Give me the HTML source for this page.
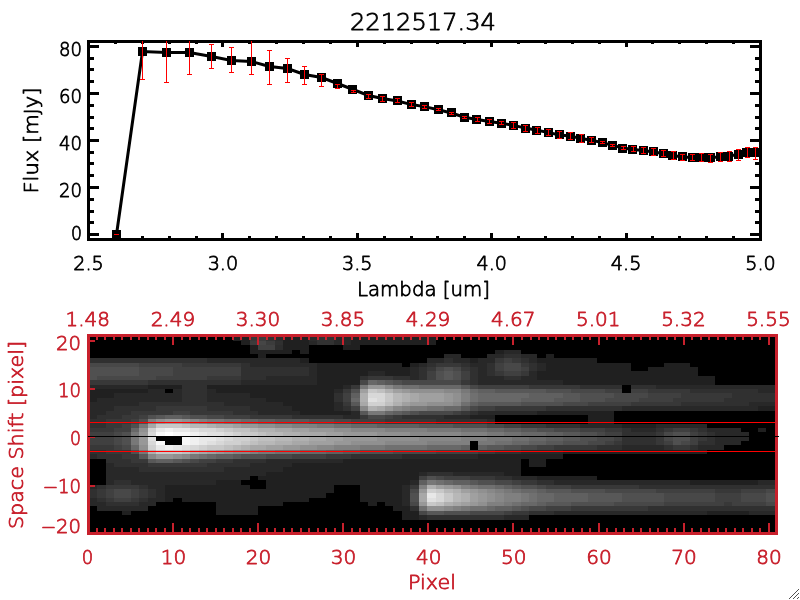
<!DOCTYPE html>
<html lang="en"><head><meta charset="utf-8"><title>2212517.34</title>
<style>html,body{margin:0;padding:0;background:#fff;overflow:hidden}svg{display:block}text{font-family:'DejaVu Sans Light', 'DejaVu Sans', 'Liberation Sans', sans-serif;font-weight:200;stroke-width:0.8px;paint-order:stroke fill;stroke-linejoin:round}</style></head><body>
<svg width="800" height="600" viewBox="0 0 800 600" style="will-change:transform">
<rect x="0" y="0" width="800" height="600" fill="#fff"/>
<g shape-rendering="crispEdges" fill="#000">
<rect x="87" y="40" width="675" height="3"/>
<rect x="87" y="238" width="675" height="3"/>
<rect x="87" y="40" width="3" height="201"/>
<rect x="759" y="40" width="3" height="201"/>
<rect x="114" y="236" width="3" height="2"/>
<rect x="114" y="43" width="3" height="1"/>
<rect x="141" y="236" width="3" height="2"/>
<rect x="141" y="43" width="3" height="1"/>
<rect x="168" y="236" width="3" height="2"/>
<rect x="168" y="43" width="3" height="1"/>
<rect x="195" y="236" width="3" height="2"/>
<rect x="195" y="43" width="3" height="1"/>
<rect x="221" y="233" width="3" height="5"/>
<rect x="221" y="43" width="3" height="4"/>
<rect x="248" y="236" width="3" height="2"/>
<rect x="248" y="43" width="3" height="1"/>
<rect x="275" y="236" width="3" height="2"/>
<rect x="275" y="43" width="3" height="1"/>
<rect x="302" y="236" width="3" height="2"/>
<rect x="302" y="43" width="3" height="1"/>
<rect x="329" y="236" width="3" height="2"/>
<rect x="329" y="43" width="3" height="1"/>
<rect x="356" y="233" width="3" height="5"/>
<rect x="356" y="43" width="3" height="4"/>
<rect x="383" y="236" width="3" height="2"/>
<rect x="383" y="43" width="3" height="1"/>
<rect x="410" y="236" width="3" height="2"/>
<rect x="410" y="43" width="3" height="1"/>
<rect x="436" y="236" width="3" height="2"/>
<rect x="436" y="43" width="3" height="1"/>
<rect x="463" y="236" width="3" height="2"/>
<rect x="463" y="43" width="3" height="1"/>
<rect x="490" y="233" width="3" height="5"/>
<rect x="490" y="43" width="3" height="4"/>
<rect x="517" y="236" width="3" height="2"/>
<rect x="517" y="43" width="3" height="1"/>
<rect x="544" y="236" width="3" height="2"/>
<rect x="544" y="43" width="3" height="1"/>
<rect x="571" y="236" width="3" height="2"/>
<rect x="571" y="43" width="3" height="1"/>
<rect x="598" y="236" width="3" height="2"/>
<rect x="598" y="43" width="3" height="1"/>
<rect x="625" y="233" width="3" height="5"/>
<rect x="625" y="43" width="3" height="4"/>
<rect x="651" y="236" width="3" height="2"/>
<rect x="651" y="43" width="3" height="1"/>
<rect x="678" y="236" width="3" height="2"/>
<rect x="678" y="43" width="3" height="1"/>
<rect x="705" y="236" width="3" height="2"/>
<rect x="705" y="43" width="3" height="1"/>
<rect x="732" y="236" width="3" height="2"/>
<rect x="732" y="43" width="3" height="1"/>
<rect x="90" y="233" width="9" height="3"/>
<rect x="750" y="233" width="9" height="3"/>
<rect x="90" y="221" width="4" height="3"/>
<rect x="755" y="221" width="4" height="3"/>
<rect x="90" y="210" width="4" height="3"/>
<rect x="755" y="210" width="4" height="3"/>
<rect x="90" y="198" width="4" height="3"/>
<rect x="755" y="198" width="4" height="3"/>
<rect x="90" y="186" width="9" height="3"/>
<rect x="750" y="186" width="9" height="3"/>
<rect x="90" y="174" width="4" height="3"/>
<rect x="755" y="174" width="4" height="3"/>
<rect x="90" y="162" width="4" height="3"/>
<rect x="755" y="162" width="4" height="3"/>
<rect x="90" y="151" width="4" height="3"/>
<rect x="755" y="151" width="4" height="3"/>
<rect x="90" y="139" width="9" height="3"/>
<rect x="750" y="139" width="9" height="3"/>
<rect x="90" y="127" width="4" height="3"/>
<rect x="755" y="127" width="4" height="3"/>
<rect x="90" y="116" width="4" height="3"/>
<rect x="755" y="116" width="4" height="3"/>
<rect x="90" y="104" width="4" height="3"/>
<rect x="755" y="104" width="4" height="3"/>
<rect x="90" y="92" width="9" height="3"/>
<rect x="750" y="92" width="9" height="3"/>
<rect x="90" y="80" width="4" height="3"/>
<rect x="755" y="80" width="4" height="3"/>
<rect x="90" y="68" width="4" height="3"/>
<rect x="755" y="68" width="4" height="3"/>
<rect x="90" y="57" width="4" height="3"/>
<rect x="755" y="57" width="4" height="3"/>
<rect x="90" y="45" width="9" height="3"/>
<rect x="750" y="45" width="9" height="3"/>
</g>
<polyline fill="none" stroke="#000" stroke-width="3" stroke-linejoin="miter" points="116.5,234.5 142.5,51.5 166.5,52.5 189.5,52.5 211.5,56.5 231.5,60.5 251.5,61.5 269.5,66.5 287.5,68.5 304.5,74.5 321.5,77.5 337.5,83.5 353.0,89.5 368.5,95.5 382.5,98.5 397.6,101.0 411.6,104.6 424.4,106.6 438.4,109.8 451.4,113.0 464.4,117.2 477.0,119.4 489.4,121.4 501.4,123.2 513.6,125.4 525.5,128.1 537.0,130.2 548.0,132.4 559.4,135.0 570.4,136.0 581.0,138.6 591.6,140.2 602.4,142.6 612.6,145.4 622.8,148.0 633.0,149.4 643.4,150.6 653.4,151.9 663.4,153.5 673.0,155.5 682.4,157.0 692.0,157.4 701.4,157.4 710.4,157.6 720.0,157.0 729.0,156.0 738.0,154.6 747.0,152.4 755.6,153.0"/>
<g shape-rendering="crispEdges" fill="#000">
<rect x="112" y="230" width="9" height="9"/>
<rect x="138" y="47" width="9" height="9"/>
<rect x="162" y="48" width="9" height="9"/>
<rect x="185" y="48" width="9" height="9"/>
<rect x="207" y="52" width="9" height="9"/>
<rect x="227" y="56" width="9" height="9"/>
<rect x="247" y="57" width="9" height="9"/>
<rect x="265" y="62" width="9" height="9"/>
<rect x="283" y="64" width="9" height="9"/>
<rect x="300" y="70" width="9" height="9"/>
<rect x="317" y="73" width="9" height="9"/>
<rect x="333" y="79" width="9" height="9"/>
<rect x="348" y="85" width="9" height="9"/>
<rect x="364" y="91" width="9" height="9"/>
<rect x="378" y="94" width="9" height="9"/>
<rect x="393" y="96" width="9" height="9"/>
<rect x="407" y="100" width="9" height="9"/>
<rect x="420" y="102" width="9" height="9"/>
<rect x="434" y="105" width="9" height="9"/>
<rect x="447" y="108" width="9" height="9"/>
<rect x="460" y="113" width="9" height="9"/>
<rect x="472" y="115" width="9" height="9"/>
<rect x="485" y="117" width="9" height="9"/>
<rect x="497" y="119" width="9" height="9"/>
<rect x="509" y="121" width="9" height="9"/>
<rect x="521" y="124" width="9" height="9"/>
<rect x="532" y="126" width="9" height="9"/>
<rect x="544" y="128" width="9" height="9"/>
<rect x="555" y="130" width="9" height="9"/>
<rect x="566" y="132" width="9" height="9"/>
<rect x="576" y="134" width="9" height="9"/>
<rect x="587" y="136" width="9" height="9"/>
<rect x="598" y="138" width="9" height="9"/>
<rect x="608" y="141" width="9" height="9"/>
<rect x="618" y="144" width="9" height="9"/>
<rect x="628" y="145" width="9" height="9"/>
<rect x="639" y="146" width="9" height="9"/>
<rect x="649" y="147" width="9" height="9"/>
<rect x="659" y="149" width="9" height="9"/>
<rect x="668" y="151" width="9" height="9"/>
<rect x="678" y="152" width="9" height="9"/>
<rect x="688" y="153" width="9" height="9"/>
<rect x="697" y="153" width="9" height="9"/>
<rect x="706" y="153" width="9" height="9"/>
<rect x="716" y="152" width="9" height="9"/>
<rect x="724" y="152" width="9" height="9"/>
<rect x="734" y="150" width="9" height="9"/>
<rect x="742" y="148" width="9" height="9"/>
<rect x="751" y="148" width="9" height="9"/>
</g>
<g shape-rendering="crispEdges" fill="#f00">
<rect x="114" y="234" width="5" height="1"/>
<rect x="142" y="41" width="1" height="39"/>
<rect x="140" y="79" width="5" height="1"/>
<rect x="166" y="41" width="1" height="42"/>
<rect x="164" y="82" width="5" height="1"/>
<rect x="189" y="41" width="1" height="34"/>
<rect x="187" y="74" width="5" height="1"/>
<rect x="211" y="44" width="1" height="25"/>
<rect x="209" y="44" width="5" height="1"/>
<rect x="209" y="68" width="5" height="1"/>
<rect x="231" y="47" width="1" height="26"/>
<rect x="229" y="47" width="5" height="1"/>
<rect x="229" y="72" width="5" height="1"/>
<rect x="251" y="41" width="1" height="34"/>
<rect x="249" y="74" width="5" height="1"/>
<rect x="269" y="50" width="1" height="35"/>
<rect x="267" y="50" width="5" height="1"/>
<rect x="267" y="84" width="5" height="1"/>
<rect x="287" y="58" width="1" height="25"/>
<rect x="285" y="58" width="5" height="1"/>
<rect x="285" y="82" width="5" height="1"/>
<rect x="304" y="66" width="1" height="19"/>
<rect x="302" y="66" width="5" height="1"/>
<rect x="302" y="84" width="5" height="1"/>
<rect x="321" y="74" width="1" height="13"/>
<rect x="319" y="74" width="5" height="1"/>
<rect x="319" y="86" width="5" height="1"/>
<rect x="337" y="84" width="1" height="5"/>
<rect x="335" y="84" width="5" height="1"/>
<rect x="335" y="88" width="5" height="1"/>
<rect x="353" y="90" width="1" height="3"/>
<rect x="351" y="90" width="5" height="1"/>
<rect x="351" y="92" width="5" height="1"/>
<rect x="368" y="94" width="1" height="5"/>
<rect x="366" y="94" width="5" height="1"/>
<rect x="366" y="98" width="5" height="1"/>
<rect x="382" y="96" width="1" height="6"/>
<rect x="380" y="96" width="5" height="1"/>
<rect x="380" y="101" width="5" height="1"/>
<rect x="397" y="98" width="1" height="5"/>
<rect x="395" y="98" width="5" height="1"/>
<rect x="395" y="102" width="5" height="1"/>
<rect x="411" y="102" width="1" height="5"/>
<rect x="409" y="102" width="5" height="1"/>
<rect x="409" y="106" width="5" height="1"/>
<rect x="424" y="105" width="1" height="4"/>
<rect x="422" y="105" width="5" height="1"/>
<rect x="422" y="108" width="5" height="1"/>
<rect x="438" y="108" width="1" height="3"/>
<rect x="436" y="108" width="5" height="1"/>
<rect x="436" y="110" width="5" height="1"/>
<rect x="451" y="112" width="1" height="3"/>
<rect x="449" y="112" width="5" height="1"/>
<rect x="449" y="114" width="5" height="1"/>
<rect x="464" y="116" width="1" height="3"/>
<rect x="462" y="116" width="5" height="1"/>
<rect x="462" y="118" width="5" height="1"/>
<rect x="477" y="117" width="1" height="5"/>
<rect x="475" y="117" width="5" height="1"/>
<rect x="475" y="121" width="5" height="1"/>
<rect x="489" y="119" width="1" height="5"/>
<rect x="487" y="119" width="5" height="1"/>
<rect x="487" y="123" width="5" height="1"/>
<rect x="501" y="121" width="1" height="4"/>
<rect x="499" y="121" width="5" height="1"/>
<rect x="499" y="124" width="5" height="1"/>
<rect x="513" y="122" width="1" height="7"/>
<rect x="511" y="122" width="5" height="1"/>
<rect x="511" y="128" width="5" height="1"/>
<rect x="525" y="125" width="1" height="7"/>
<rect x="523" y="125" width="5" height="1"/>
<rect x="523" y="131" width="5" height="1"/>
<rect x="537" y="127" width="1" height="7"/>
<rect x="535" y="127" width="5" height="1"/>
<rect x="535" y="133" width="5" height="1"/>
<rect x="548" y="129" width="1" height="7"/>
<rect x="546" y="129" width="5" height="1"/>
<rect x="546" y="135" width="5" height="1"/>
<rect x="559" y="131" width="1" height="8"/>
<rect x="557" y="131" width="5" height="1"/>
<rect x="557" y="138" width="5" height="1"/>
<rect x="570" y="132" width="1" height="8"/>
<rect x="568" y="132" width="5" height="1"/>
<rect x="568" y="139" width="5" height="1"/>
<rect x="581" y="134" width="1" height="9"/>
<rect x="579" y="134" width="5" height="1"/>
<rect x="579" y="142" width="5" height="1"/>
<rect x="591" y="137" width="1" height="6"/>
<rect x="589" y="137" width="5" height="1"/>
<rect x="589" y="142" width="5" height="1"/>
<rect x="602" y="141" width="1" height="3"/>
<rect x="600" y="141" width="5" height="1"/>
<rect x="600" y="143" width="5" height="1"/>
<rect x="612" y="144" width="1" height="3"/>
<rect x="610" y="144" width="5" height="1"/>
<rect x="610" y="146" width="5" height="1"/>
<rect x="623" y="146" width="1" height="4"/>
<rect x="621" y="146" width="5" height="1"/>
<rect x="621" y="149" width="5" height="1"/>
<rect x="633" y="146" width="1" height="6"/>
<rect x="631" y="146" width="5" height="1"/>
<rect x="631" y="151" width="5" height="1"/>
<rect x="643" y="147" width="1" height="7"/>
<rect x="641" y="147" width="5" height="1"/>
<rect x="641" y="153" width="5" height="1"/>
<rect x="653" y="148" width="1" height="8"/>
<rect x="651" y="148" width="5" height="1"/>
<rect x="651" y="155" width="5" height="1"/>
<rect x="663" y="150" width="1" height="7"/>
<rect x="661" y="150" width="5" height="1"/>
<rect x="661" y="156" width="5" height="1"/>
<rect x="673" y="151" width="1" height="9"/>
<rect x="671" y="151" width="5" height="1"/>
<rect x="671" y="159" width="5" height="1"/>
<rect x="682" y="154" width="1" height="7"/>
<rect x="680" y="154" width="5" height="1"/>
<rect x="680" y="160" width="5" height="1"/>
<rect x="692" y="154" width="1" height="7"/>
<rect x="690" y="154" width="5" height="1"/>
<rect x="690" y="160" width="5" height="1"/>
<rect x="701" y="153" width="1" height="9"/>
<rect x="699" y="153" width="5" height="1"/>
<rect x="699" y="161" width="5" height="1"/>
<rect x="710" y="154" width="1" height="9"/>
<rect x="708" y="154" width="5" height="1"/>
<rect x="708" y="162" width="5" height="1"/>
<rect x="720" y="152" width="1" height="10"/>
<rect x="718" y="152" width="5" height="1"/>
<rect x="718" y="161" width="5" height="1"/>
<rect x="729" y="151" width="1" height="11"/>
<rect x="727" y="151" width="5" height="1"/>
<rect x="727" y="161" width="5" height="1"/>
<rect x="738" y="149" width="1" height="12"/>
<rect x="736" y="149" width="5" height="1"/>
<rect x="736" y="160" width="5" height="1"/>
<rect x="747" y="147" width="1" height="11"/>
<rect x="745" y="147" width="5" height="1"/>
<rect x="745" y="157" width="5" height="1"/>
<rect x="755" y="147" width="1" height="13"/>
<rect x="753" y="147" width="5" height="1"/>
<rect x="753" y="159" width="5" height="1"/>
</g>
<text x="423.0" y="29.5" font-size="23.3" fill="#000" stroke="#000" text-anchor="middle" textLength="146.0" lengthAdjust="spacingAndGlyphs">2212517.34</text>
<text x="88.5" y="270.0" font-size="19.6" fill="#000" stroke="#000" text-anchor="middle" textLength="30.5" lengthAdjust="spacingAndGlyphs">2.5</text>
<text x="222.9" y="270.0" font-size="19.6" fill="#000" stroke="#000" text-anchor="middle" textLength="30.5" lengthAdjust="spacingAndGlyphs">3.0</text>
<text x="357.3" y="270.0" font-size="19.6" fill="#000" stroke="#000" text-anchor="middle" textLength="30.5" lengthAdjust="spacingAndGlyphs">3.5</text>
<text x="491.7" y="270.0" font-size="19.6" fill="#000" stroke="#000" text-anchor="middle" textLength="30.5" lengthAdjust="spacingAndGlyphs">4.0</text>
<text x="626.1" y="270.0" font-size="19.6" fill="#000" stroke="#000" text-anchor="middle" textLength="30.5" lengthAdjust="spacingAndGlyphs">4.5</text>
<text x="760.5" y="270.0" font-size="19.6" fill="#000" stroke="#000" text-anchor="middle" textLength="30.5" lengthAdjust="spacingAndGlyphs">5.0</text>
<text x="82.0" y="240.0" font-size="19.6" fill="#000" stroke="#000" text-anchor="end" textLength="11.0" lengthAdjust="spacingAndGlyphs">0</text>
<text x="82.0" y="196.5" font-size="19.6" fill="#000" stroke="#000" text-anchor="end" textLength="23.0" lengthAdjust="spacingAndGlyphs">20</text>
<text x="82.0" y="149.5" font-size="19.6" fill="#000" stroke="#000" text-anchor="end" textLength="23.0" lengthAdjust="spacingAndGlyphs">40</text>
<text x="82.0" y="102.5" font-size="19.6" fill="#000" stroke="#000" text-anchor="end" textLength="23.0" lengthAdjust="spacingAndGlyphs">60</text>
<text x="82.0" y="55.5" font-size="19.6" fill="#000" stroke="#000" text-anchor="end" textLength="23.0" lengthAdjust="spacingAndGlyphs">80</text>
<text x="423.5" y="296.0" font-size="19.6" fill="#000" stroke="#000" text-anchor="middle" textLength="133.0" lengthAdjust="spacingAndGlyphs">Lambda [um]</text>
<text transform="translate(38,140.5) rotate(-90)" font-size="19.6" stroke="#000" text-anchor="middle" textLength="106" lengthAdjust="spacingAndGlyphs">Flux [mJy]</text>
<clipPath id="c"><rect x="88" y="336" width="688" height="197"/></clipPath>
<g clip-path="url(#c)" shape-rendering="crispEdges">
<rect x="88" y="336" width="688" height="197" fill="#000"/>
<rect x="233" y="337" width="17" height="4" fill="#202020"/>
<rect x="250" y="337" width="8" height="4" fill="#383838"/>
<rect x="258" y="337" width="8" height="4" fill="#3c3c3c"/>
<rect x="266" y="337" width="9" height="4" fill="#323232"/>
<rect x="275" y="337" width="8" height="4" fill="#2c2c2c"/>
<rect x="283" y="337" width="26" height="4" fill="#202020"/>
<rect x="309" y="337" width="8" height="4" fill="#2c2c2c"/>
<rect x="317" y="337" width="17" height="4" fill="#323232"/>
<rect x="334" y="337" width="17" height="4" fill="#282828"/>
<rect x="351" y="337" width="85" height="4" fill="#202020"/>
<rect x="241" y="341" width="9" height="4" fill="#202020"/>
<rect x="250" y="341" width="8" height="4" fill="#3c3c3c"/>
<rect x="258" y="341" width="8" height="4" fill="#464646"/>
<rect x="266" y="341" width="9" height="4" fill="#3c3c3c"/>
<rect x="275" y="341" width="8" height="4" fill="#303030"/>
<rect x="283" y="341" width="26" height="4" fill="#202020"/>
<rect x="309" y="341" width="8" height="4" fill="#282828"/>
<rect x="317" y="341" width="17" height="4" fill="#323232"/>
<rect x="334" y="341" width="17" height="4" fill="#282828"/>
<rect x="351" y="341" width="85" height="4" fill="#202020"/>
<rect x="250" y="345" width="8" height="5" fill="#202020"/>
<rect x="258" y="345" width="17" height="5" fill="#414141"/>
<rect x="275" y="345" width="8" height="5" fill="#2d2d2d"/>
<rect x="283" y="345" width="26" height="5" fill="#202020"/>
<rect x="343" y="345" width="17" height="5" fill="#202020"/>
<rect x="250" y="350" width="42" height="4" fill="#202020"/>
<rect x="300" y="350" width="9" height="4" fill="#202020"/>
<rect x="495" y="350" width="9" height="4" fill="#202020"/>
<rect x="504" y="350" width="17" height="4" fill="#282828"/>
<rect x="258" y="354" width="8" height="4" fill="#202020"/>
<rect x="444" y="354" width="17" height="4" fill="#282828"/>
<rect x="487" y="354" width="17" height="4" fill="#282828"/>
<rect x="504" y="354" width="17" height="4" fill="#303030"/>
<rect x="521" y="354" width="16" height="4" fill="#282828"/>
<rect x="546" y="354" width="8" height="4" fill="#202020"/>
<rect x="89" y="358" width="118" height="5" fill="#303030"/>
<rect x="207" y="358" width="93" height="5" fill="#282828"/>
<rect x="300" y="358" width="9" height="5" fill="#202020"/>
<rect x="427" y="358" width="17" height="5" fill="#282828"/>
<rect x="444" y="358" width="9" height="5" fill="#303030"/>
<rect x="453" y="358" width="17" height="5" fill="#282828"/>
<rect x="470" y="358" width="8" height="5" fill="#202020"/>
<rect x="478" y="358" width="17" height="5" fill="#282828"/>
<rect x="495" y="358" width="9" height="5" fill="#383838"/>
<rect x="504" y="358" width="8" height="5" fill="#404040"/>
<rect x="512" y="358" width="9" height="5" fill="#383838"/>
<rect x="521" y="358" width="8" height="5" fill="#303030"/>
<rect x="529" y="358" width="8" height="5" fill="#282828"/>
<rect x="537" y="358" width="60" height="5" fill="#202020"/>
<rect x="89" y="363" width="50" height="4" fill="#484848"/>
<rect x="139" y="363" width="43" height="4" fill="#404040"/>
<rect x="182" y="363" width="59" height="4" fill="#383838"/>
<rect x="241" y="363" width="9" height="4" fill="#303030"/>
<rect x="250" y="363" width="67" height="4" fill="#282828"/>
<rect x="317" y="363" width="85" height="4" fill="#202020"/>
<rect x="410" y="363" width="9" height="4" fill="#202020"/>
<rect x="419" y="363" width="8" height="4" fill="#282828"/>
<rect x="427" y="363" width="9" height="4" fill="#303030"/>
<rect x="436" y="363" width="25" height="4" fill="#383838"/>
<rect x="461" y="363" width="9" height="4" fill="#303030"/>
<rect x="470" y="363" width="17" height="4" fill="#282828"/>
<rect x="487" y="363" width="8" height="4" fill="#303030"/>
<rect x="495" y="363" width="9" height="4" fill="#404040"/>
<rect x="504" y="363" width="17" height="4" fill="#484848"/>
<rect x="521" y="363" width="8" height="4" fill="#383838"/>
<rect x="529" y="363" width="8" height="4" fill="#303030"/>
<rect x="537" y="363" width="9" height="4" fill="#282828"/>
<rect x="546" y="363" width="85" height="4" fill="#202020"/>
<rect x="664" y="363" width="26" height="4" fill="#202020"/>
<rect x="89" y="367" width="50" height="4" fill="#505050"/>
<rect x="139" y="367" width="34" height="4" fill="#484848"/>
<rect x="173" y="367" width="68" height="4" fill="#404040"/>
<rect x="241" y="367" width="68" height="4" fill="#303030"/>
<rect x="309" y="367" width="8" height="4" fill="#282828"/>
<rect x="317" y="367" width="93" height="4" fill="#202020"/>
<rect x="410" y="367" width="9" height="4" fill="#282828"/>
<rect x="419" y="367" width="8" height="4" fill="#303030"/>
<rect x="427" y="367" width="9" height="4" fill="#383838"/>
<rect x="436" y="367" width="8" height="4" fill="#484848"/>
<rect x="444" y="367" width="9" height="4" fill="#505050"/>
<rect x="453" y="367" width="8" height="4" fill="#484848"/>
<rect x="461" y="367" width="9" height="4" fill="#383838"/>
<rect x="470" y="367" width="8" height="4" fill="#303030"/>
<rect x="478" y="367" width="9" height="4" fill="#282828"/>
<rect x="487" y="367" width="8" height="4" fill="#303030"/>
<rect x="495" y="367" width="9" height="4" fill="#404040"/>
<rect x="504" y="367" width="17" height="4" fill="#484848"/>
<rect x="521" y="367" width="8" height="4" fill="#404040"/>
<rect x="529" y="367" width="8" height="4" fill="#303030"/>
<rect x="537" y="367" width="9" height="4" fill="#282828"/>
<rect x="546" y="367" width="85" height="4" fill="#202020"/>
<rect x="648" y="367" width="50" height="4" fill="#202020"/>
<rect x="89" y="371" width="50" height="5" fill="#505050"/>
<rect x="139" y="371" width="34" height="5" fill="#484848"/>
<rect x="173" y="371" width="68" height="5" fill="#404040"/>
<rect x="241" y="371" width="68" height="5" fill="#303030"/>
<rect x="309" y="371" width="8" height="5" fill="#282828"/>
<rect x="317" y="371" width="51" height="5" fill="#202020"/>
<rect x="368" y="371" width="17" height="5" fill="#282828"/>
<rect x="385" y="371" width="25" height="5" fill="#202020"/>
<rect x="410" y="371" width="9" height="5" fill="#282828"/>
<rect x="419" y="371" width="8" height="5" fill="#303030"/>
<rect x="427" y="371" width="9" height="5" fill="#404040"/>
<rect x="436" y="371" width="8" height="5" fill="#505050"/>
<rect x="444" y="371" width="9" height="5" fill="#585858"/>
<rect x="453" y="371" width="8" height="5" fill="#505050"/>
<rect x="461" y="371" width="9" height="5" fill="#404040"/>
<rect x="470" y="371" width="8" height="5" fill="#303030"/>
<rect x="478" y="371" width="9" height="5" fill="#282828"/>
<rect x="487" y="371" width="8" height="5" fill="#303030"/>
<rect x="495" y="371" width="9" height="5" fill="#383838"/>
<rect x="504" y="371" width="17" height="5" fill="#404040"/>
<rect x="521" y="371" width="8" height="5" fill="#383838"/>
<rect x="529" y="371" width="8" height="5" fill="#282828"/>
<rect x="537" y="371" width="161" height="5" fill="#202020"/>
<rect x="89" y="376" width="8" height="4" fill="#505050"/>
<rect x="97" y="376" width="59" height="4" fill="#484848"/>
<rect x="156" y="376" width="51" height="4" fill="#404040"/>
<rect x="207" y="376" width="34" height="4" fill="#383838"/>
<rect x="241" y="376" width="25" height="4" fill="#303030"/>
<rect x="266" y="376" width="51" height="4" fill="#282828"/>
<rect x="317" y="376" width="43" height="4" fill="#202020"/>
<rect x="360" y="376" width="8" height="4" fill="#303030"/>
<rect x="368" y="376" width="25" height="4" fill="#383838"/>
<rect x="393" y="376" width="17" height="4" fill="#303030"/>
<rect x="410" y="376" width="9" height="4" fill="#282828"/>
<rect x="419" y="376" width="8" height="4" fill="#303030"/>
<rect x="427" y="376" width="9" height="4" fill="#404040"/>
<rect x="436" y="376" width="8" height="4" fill="#505050"/>
<rect x="444" y="376" width="9" height="4" fill="#585858"/>
<rect x="453" y="376" width="8" height="4" fill="#505050"/>
<rect x="461" y="376" width="9" height="4" fill="#404040"/>
<rect x="470" y="376" width="8" height="4" fill="#303030"/>
<rect x="478" y="376" width="26" height="4" fill="#282828"/>
<rect x="504" y="376" width="17" height="4" fill="#303030"/>
<rect x="521" y="376" width="16" height="4" fill="#282828"/>
<rect x="537" y="376" width="178" height="4" fill="#202020"/>
<rect x="89" y="380" width="59" height="5" fill="#383838"/>
<rect x="148" y="380" width="93" height="5" fill="#303030"/>
<rect x="241" y="380" width="76" height="5" fill="#282828"/>
<rect x="317" y="380" width="43" height="5" fill="#202020"/>
<rect x="360" y="380" width="8" height="5" fill="#484848"/>
<rect x="368" y="380" width="9" height="5" fill="#686868"/>
<rect x="377" y="380" width="8" height="5" fill="#606060"/>
<rect x="385" y="380" width="8" height="5" fill="#585858"/>
<rect x="393" y="380" width="9" height="5" fill="#505050"/>
<rect x="402" y="380" width="59" height="5" fill="#484848"/>
<rect x="461" y="380" width="9" height="5" fill="#383838"/>
<rect x="470" y="380" width="8" height="5" fill="#303030"/>
<rect x="478" y="380" width="85" height="5" fill="#282828"/>
<rect x="563" y="380" width="152" height="5" fill="#202020"/>
<rect x="89" y="385" width="59" height="4" fill="#282828"/>
<rect x="148" y="385" width="34" height="4" fill="#202020"/>
<rect x="182" y="385" width="25" height="4" fill="#303030"/>
<rect x="207" y="385" width="136" height="4" fill="#202020"/>
<rect x="343" y="385" width="8" height="4" fill="#282828"/>
<rect x="351" y="385" width="9" height="4" fill="#383838"/>
<rect x="360" y="385" width="8" height="4" fill="#787878"/>
<rect x="368" y="385" width="17" height="4" fill="#989898"/>
<rect x="385" y="385" width="8" height="4" fill="#888888"/>
<rect x="393" y="385" width="9" height="4" fill="#787878"/>
<rect x="402" y="385" width="17" height="4" fill="#707070"/>
<rect x="419" y="385" width="42" height="4" fill="#686868"/>
<rect x="461" y="385" width="9" height="4" fill="#585858"/>
<rect x="470" y="385" width="8" height="4" fill="#484848"/>
<rect x="478" y="385" width="51" height="4" fill="#404040"/>
<rect x="529" y="385" width="51" height="4" fill="#383838"/>
<rect x="580" y="385" width="42" height="4" fill="#303030"/>
<rect x="631" y="385" width="25" height="4" fill="#303030"/>
<rect x="656" y="385" width="119" height="4" fill="#282828"/>
<rect x="89" y="389" width="59" height="4" fill="#202020"/>
<rect x="148" y="389" width="17" height="4" fill="#282828"/>
<rect x="173" y="389" width="9" height="4" fill="#282828"/>
<rect x="182" y="389" width="25" height="4" fill="#303030"/>
<rect x="207" y="389" width="9" height="4" fill="#282828"/>
<rect x="216" y="389" width="118" height="4" fill="#202020"/>
<rect x="334" y="389" width="9" height="4" fill="#282828"/>
<rect x="343" y="389" width="8" height="4" fill="#383838"/>
<rect x="351" y="389" width="9" height="4" fill="#505050"/>
<rect x="360" y="389" width="8" height="4" fill="#a0a0a0"/>
<rect x="368" y="389" width="9" height="4" fill="#c8c8c8"/>
<rect x="377" y="389" width="8" height="4" fill="#c0c0c0"/>
<rect x="385" y="389" width="8" height="4" fill="#b0b0b0"/>
<rect x="393" y="389" width="9" height="4" fill="#a0a0a0"/>
<rect x="402" y="389" width="8" height="4" fill="#989898"/>
<rect x="410" y="389" width="34" height="4" fill="#909090"/>
<rect x="444" y="389" width="17" height="4" fill="#888888"/>
<rect x="461" y="389" width="9" height="4" fill="#787878"/>
<rect x="470" y="389" width="8" height="4" fill="#686868"/>
<rect x="478" y="389" width="17" height="4" fill="#606060"/>
<rect x="495" y="389" width="51" height="4" fill="#585858"/>
<rect x="546" y="389" width="25" height="4" fill="#505050"/>
<rect x="571" y="389" width="34" height="4" fill="#484848"/>
<rect x="605" y="389" width="17" height="4" fill="#404040"/>
<rect x="631" y="389" width="17" height="4" fill="#404040"/>
<rect x="648" y="389" width="42" height="4" fill="#383838"/>
<rect x="690" y="389" width="68" height="4" fill="#303030"/>
<rect x="758" y="389" width="17" height="4" fill="#282828"/>
<rect x="89" y="393" width="25" height="5" fill="#202020"/>
<rect x="114" y="393" width="68" height="5" fill="#282828"/>
<rect x="182" y="393" width="25" height="5" fill="#303030"/>
<rect x="207" y="393" width="43" height="5" fill="#282828"/>
<rect x="250" y="393" width="84" height="5" fill="#202020"/>
<rect x="334" y="393" width="9" height="5" fill="#303030"/>
<rect x="343" y="393" width="8" height="5" fill="#404040"/>
<rect x="351" y="393" width="9" height="5" fill="#606060"/>
<rect x="360" y="393" width="8" height="5" fill="#b0b0b0"/>
<rect x="368" y="393" width="17" height="5" fill="#d8d8d8"/>
<rect x="385" y="393" width="8" height="5" fill="#c8c8c8"/>
<rect x="393" y="393" width="9" height="5" fill="#b8b8b8"/>
<rect x="402" y="393" width="8" height="5" fill="#b0b0b0"/>
<rect x="410" y="393" width="9" height="5" fill="#a8a8a8"/>
<rect x="419" y="393" width="25" height="5" fill="#a0a0a0"/>
<rect x="444" y="393" width="9" height="5" fill="#989898"/>
<rect x="453" y="393" width="8" height="5" fill="#909090"/>
<rect x="461" y="393" width="9" height="5" fill="#808080"/>
<rect x="470" y="393" width="8" height="5" fill="#707070"/>
<rect x="478" y="393" width="51" height="5" fill="#686868"/>
<rect x="529" y="393" width="34" height="5" fill="#606060"/>
<rect x="563" y="393" width="17" height="5" fill="#585858"/>
<rect x="580" y="393" width="34" height="5" fill="#505050"/>
<rect x="614" y="393" width="34" height="5" fill="#484848"/>
<rect x="648" y="393" width="33" height="5" fill="#404040"/>
<rect x="681" y="393" width="51" height="5" fill="#383838"/>
<rect x="732" y="393" width="43" height="5" fill="#303030"/>
<rect x="89" y="398" width="8" height="4" fill="#202020"/>
<rect x="97" y="398" width="85" height="4" fill="#282828"/>
<rect x="182" y="398" width="25" height="4" fill="#303030"/>
<rect x="207" y="398" width="59" height="4" fill="#282828"/>
<rect x="266" y="398" width="68" height="4" fill="#202020"/>
<rect x="334" y="398" width="9" height="4" fill="#303030"/>
<rect x="343" y="398" width="8" height="4" fill="#404040"/>
<rect x="351" y="398" width="9" height="4" fill="#686868"/>
<rect x="360" y="398" width="8" height="4" fill="#b0b0b0"/>
<rect x="368" y="398" width="9" height="4" fill="#e0e0e0"/>
<rect x="377" y="398" width="8" height="4" fill="#d8d8d8"/>
<rect x="385" y="398" width="8" height="4" fill="#c8c8c8"/>
<rect x="393" y="398" width="9" height="4" fill="#b8b8b8"/>
<rect x="402" y="398" width="8" height="4" fill="#b0b0b0"/>
<rect x="410" y="398" width="9" height="4" fill="#a8a8a8"/>
<rect x="419" y="398" width="25" height="4" fill="#a0a0a0"/>
<rect x="444" y="398" width="9" height="4" fill="#989898"/>
<rect x="453" y="398" width="8" height="4" fill="#909090"/>
<rect x="461" y="398" width="9" height="4" fill="#808080"/>
<rect x="470" y="398" width="8" height="4" fill="#707070"/>
<rect x="478" y="398" width="43" height="4" fill="#686868"/>
<rect x="521" y="398" width="33" height="4" fill="#606060"/>
<rect x="554" y="398" width="26" height="4" fill="#585858"/>
<rect x="580" y="398" width="25" height="4" fill="#505050"/>
<rect x="605" y="398" width="34" height="4" fill="#484848"/>
<rect x="639" y="398" width="34" height="4" fill="#404040"/>
<rect x="673" y="398" width="51" height="4" fill="#383838"/>
<rect x="724" y="398" width="51" height="4" fill="#303030"/>
<rect x="89" y="402" width="50" height="4" fill="#282828"/>
<rect x="139" y="402" width="85" height="4" fill="#303030"/>
<rect x="224" y="402" width="59" height="4" fill="#282828"/>
<rect x="283" y="402" width="51" height="4" fill="#202020"/>
<rect x="334" y="402" width="9" height="4" fill="#282828"/>
<rect x="343" y="402" width="8" height="4" fill="#383838"/>
<rect x="351" y="402" width="9" height="4" fill="#585858"/>
<rect x="360" y="402" width="8" height="4" fill="#a8a8a8"/>
<rect x="368" y="402" width="17" height="4" fill="#d0d0d0"/>
<rect x="385" y="402" width="8" height="4" fill="#c0c0c0"/>
<rect x="393" y="402" width="9" height="4" fill="#b0b0b0"/>
<rect x="402" y="402" width="8" height="4" fill="#a0a0a0"/>
<rect x="410" y="402" width="17" height="4" fill="#989898"/>
<rect x="427" y="402" width="26" height="4" fill="#909090"/>
<rect x="453" y="402" width="8" height="4" fill="#888888"/>
<rect x="461" y="402" width="9" height="4" fill="#707070"/>
<rect x="470" y="402" width="8" height="4" fill="#606060"/>
<rect x="478" y="402" width="43" height="4" fill="#585858"/>
<rect x="521" y="402" width="42" height="4" fill="#505050"/>
<rect x="563" y="402" width="25" height="4" fill="#484848"/>
<rect x="588" y="402" width="43" height="4" fill="#404040"/>
<rect x="631" y="402" width="50" height="4" fill="#383838"/>
<rect x="681" y="402" width="68" height="4" fill="#303030"/>
<rect x="749" y="402" width="26" height="4" fill="#282828"/>
<rect x="89" y="406" width="25" height="5" fill="#282828"/>
<rect x="114" y="406" width="42" height="5" fill="#303030"/>
<rect x="156" y="406" width="51" height="5" fill="#383838"/>
<rect x="207" y="406" width="43" height="5" fill="#303030"/>
<rect x="250" y="406" width="42" height="5" fill="#282828"/>
<rect x="292" y="406" width="42" height="5" fill="#202020"/>
<rect x="334" y="406" width="9" height="5" fill="#282828"/>
<rect x="343" y="406" width="8" height="5" fill="#303030"/>
<rect x="351" y="406" width="9" height="5" fill="#404040"/>
<rect x="360" y="406" width="8" height="5" fill="#888888"/>
<rect x="368" y="406" width="9" height="5" fill="#b0b0b0"/>
<rect x="377" y="406" width="8" height="5" fill="#a8a8a8"/>
<rect x="385" y="406" width="8" height="5" fill="#989898"/>
<rect x="393" y="406" width="9" height="5" fill="#888888"/>
<rect x="402" y="406" width="8" height="5" fill="#808080"/>
<rect x="410" y="406" width="17" height="5" fill="#787878"/>
<rect x="427" y="406" width="17" height="5" fill="#707070"/>
<rect x="444" y="406" width="17" height="5" fill="#686868"/>
<rect x="461" y="406" width="9" height="5" fill="#585858"/>
<rect x="470" y="406" width="8" height="5" fill="#484848"/>
<rect x="478" y="406" width="17" height="5" fill="#404040"/>
<rect x="495" y="406" width="51" height="5" fill="#383838"/>
<rect x="546" y="406" width="76" height="5" fill="#303030"/>
<rect x="622" y="406" width="136" height="5" fill="#282828"/>
<rect x="758" y="406" width="17" height="5" fill="#202020"/>
<rect x="89" y="411" width="17" height="4" fill="#282828"/>
<rect x="106" y="411" width="25" height="4" fill="#303030"/>
<rect x="131" y="411" width="42" height="4" fill="#383838"/>
<rect x="173" y="411" width="17" height="4" fill="#404040"/>
<rect x="190" y="411" width="43" height="4" fill="#383838"/>
<rect x="233" y="411" width="25" height="4" fill="#303030"/>
<rect x="258" y="411" width="42" height="4" fill="#282828"/>
<rect x="300" y="411" width="51" height="4" fill="#202020"/>
<rect x="351" y="411" width="9" height="4" fill="#282828"/>
<rect x="360" y="411" width="8" height="4" fill="#585858"/>
<rect x="368" y="411" width="17" height="4" fill="#787878"/>
<rect x="385" y="411" width="8" height="4" fill="#686868"/>
<rect x="393" y="411" width="9" height="4" fill="#606060"/>
<rect x="402" y="411" width="8" height="4" fill="#585858"/>
<rect x="410" y="411" width="9" height="4" fill="#505050"/>
<rect x="419" y="411" width="34" height="4" fill="#484848"/>
<rect x="453" y="411" width="8" height="4" fill="#404040"/>
<rect x="461" y="411" width="9" height="4" fill="#383838"/>
<rect x="470" y="411" width="8" height="4" fill="#303030"/>
<rect x="478" y="411" width="59" height="4" fill="#282828"/>
<rect x="537" y="411" width="77" height="4" fill="#202020"/>
<rect x="89" y="415" width="8" height="4" fill="#282828"/>
<rect x="97" y="415" width="25" height="4" fill="#303030"/>
<rect x="122" y="415" width="17" height="4" fill="#383838"/>
<rect x="139" y="415" width="9" height="4" fill="#404040"/>
<rect x="148" y="415" width="8" height="4" fill="#505050"/>
<rect x="156" y="415" width="9" height="4" fill="#585858"/>
<rect x="165" y="415" width="17" height="4" fill="#606060"/>
<rect x="182" y="415" width="8" height="4" fill="#585858"/>
<rect x="190" y="415" width="17" height="4" fill="#505050"/>
<rect x="207" y="415" width="17" height="4" fill="#484848"/>
<rect x="224" y="415" width="26" height="4" fill="#404040"/>
<rect x="250" y="415" width="42" height="4" fill="#383838"/>
<rect x="292" y="415" width="51" height="4" fill="#303030"/>
<rect x="343" y="415" width="17" height="4" fill="#282828"/>
<rect x="360" y="415" width="8" height="4" fill="#383838"/>
<rect x="368" y="415" width="17" height="4" fill="#484848"/>
<rect x="385" y="415" width="8" height="4" fill="#404040"/>
<rect x="393" y="415" width="9" height="4" fill="#383838"/>
<rect x="402" y="415" width="42" height="4" fill="#303030"/>
<rect x="444" y="415" width="26" height="4" fill="#282828"/>
<rect x="470" y="415" width="25" height="4" fill="#202020"/>
<rect x="588" y="415" width="26" height="4" fill="#202020"/>
<rect x="89" y="419" width="17" height="5" fill="#303030"/>
<rect x="106" y="419" width="25" height="5" fill="#383838"/>
<rect x="131" y="419" width="8" height="5" fill="#404040"/>
<rect x="139" y="419" width="9" height="5" fill="#505050"/>
<rect x="148" y="419" width="8" height="5" fill="#808080"/>
<rect x="156" y="419" width="9" height="5" fill="#909090"/>
<rect x="165" y="419" width="17" height="5" fill="#989898"/>
<rect x="182" y="419" width="8" height="5" fill="#909090"/>
<rect x="190" y="419" width="9" height="5" fill="#888888"/>
<rect x="199" y="419" width="8" height="5" fill="#808080"/>
<rect x="207" y="419" width="17" height="5" fill="#787878"/>
<rect x="224" y="419" width="17" height="5" fill="#707070"/>
<rect x="241" y="419" width="17" height="5" fill="#686868"/>
<rect x="258" y="419" width="17" height="5" fill="#606060"/>
<rect x="275" y="419" width="34" height="5" fill="#585858"/>
<rect x="309" y="419" width="25" height="5" fill="#505050"/>
<rect x="334" y="419" width="17" height="5" fill="#484848"/>
<rect x="351" y="419" width="34" height="5" fill="#404040"/>
<rect x="385" y="419" width="51" height="5" fill="#383838"/>
<rect x="436" y="419" width="51" height="5" fill="#303030"/>
<rect x="487" y="419" width="8" height="5" fill="#282828"/>
<rect x="588" y="419" width="26" height="5" fill="#202020"/>
<rect x="89" y="424" width="17" height="4" fill="#303030"/>
<rect x="106" y="424" width="16" height="4" fill="#383838"/>
<rect x="122" y="424" width="9" height="4" fill="#404040"/>
<rect x="131" y="424" width="8" height="4" fill="#505050"/>
<rect x="139" y="424" width="9" height="4" fill="#787878"/>
<rect x="148" y="424" width="8" height="4" fill="#a8a8a8"/>
<rect x="156" y="424" width="26" height="4" fill="#c8c8c8"/>
<rect x="182" y="424" width="8" height="4" fill="#c0c0c0"/>
<rect x="190" y="424" width="17" height="4" fill="#b8b8b8"/>
<rect x="207" y="424" width="9" height="4" fill="#b0b0b0"/>
<rect x="216" y="424" width="17" height="4" fill="#a8a8a8"/>
<rect x="233" y="424" width="8" height="4" fill="#a0a0a0"/>
<rect x="241" y="424" width="17" height="4" fill="#989898"/>
<rect x="258" y="424" width="17" height="4" fill="#909090"/>
<rect x="275" y="424" width="17" height="4" fill="#888888"/>
<rect x="292" y="424" width="25" height="4" fill="#808080"/>
<rect x="317" y="424" width="17" height="4" fill="#787878"/>
<rect x="334" y="424" width="17" height="4" fill="#707070"/>
<rect x="351" y="424" width="26" height="4" fill="#686868"/>
<rect x="377" y="424" width="42" height="4" fill="#606060"/>
<rect x="419" y="424" width="34" height="4" fill="#585858"/>
<rect x="453" y="424" width="34" height="4" fill="#505050"/>
<rect x="487" y="424" width="17" height="4" fill="#484848"/>
<rect x="504" y="424" width="17" height="4" fill="#404040"/>
<rect x="521" y="424" width="25" height="4" fill="#383838"/>
<rect x="546" y="424" width="34" height="4" fill="#303030"/>
<rect x="580" y="424" width="42" height="4" fill="#282828"/>
<rect x="622" y="424" width="34" height="4" fill="#202020"/>
<rect x="656" y="424" width="51" height="4" fill="#282828"/>
<rect x="89" y="428" width="25" height="4" fill="#383838"/>
<rect x="114" y="428" width="17" height="4" fill="#404040"/>
<rect x="131" y="428" width="8" height="4" fill="#686868"/>
<rect x="139" y="428" width="9" height="4" fill="#909090"/>
<rect x="148" y="428" width="8" height="4" fill="#d0d0d0"/>
<rect x="156" y="428" width="9" height="4" fill="#e8e8e8"/>
<rect x="165" y="428" width="8" height="4" fill="#f0f0f0"/>
<rect x="173" y="428" width="17" height="4" fill="#e8e8e8"/>
<rect x="190" y="428" width="9" height="4" fill="#e0e0e0"/>
<rect x="199" y="428" width="17" height="4" fill="#d8d8d8"/>
<rect x="216" y="428" width="8" height="4" fill="#d0d0d0"/>
<rect x="224" y="428" width="9" height="4" fill="#c8c8c8"/>
<rect x="233" y="428" width="17" height="4" fill="#c0c0c0"/>
<rect x="250" y="428" width="8" height="4" fill="#b8b8b8"/>
<rect x="258" y="428" width="17" height="4" fill="#b0b0b0"/>
<rect x="275" y="428" width="17" height="4" fill="#a8a8a8"/>
<rect x="292" y="428" width="17" height="4" fill="#a0a0a0"/>
<rect x="309" y="428" width="25" height="4" fill="#989898"/>
<rect x="334" y="428" width="17" height="4" fill="#909090"/>
<rect x="351" y="428" width="34" height="4" fill="#888888"/>
<rect x="385" y="428" width="42" height="4" fill="#808080"/>
<rect x="427" y="428" width="34" height="4" fill="#787878"/>
<rect x="461" y="428" width="26" height="4" fill="#707070"/>
<rect x="487" y="428" width="17" height="4" fill="#686868"/>
<rect x="504" y="428" width="17" height="4" fill="#606060"/>
<rect x="521" y="428" width="16" height="4" fill="#585858"/>
<rect x="537" y="428" width="17" height="4" fill="#505050"/>
<rect x="554" y="428" width="26" height="4" fill="#484848"/>
<rect x="580" y="428" width="25" height="4" fill="#404040"/>
<rect x="605" y="428" width="17" height="4" fill="#383838"/>
<rect x="622" y="428" width="9" height="4" fill="#303030"/>
<rect x="631" y="428" width="25" height="4" fill="#282828"/>
<rect x="656" y="428" width="8" height="4" fill="#303030"/>
<rect x="664" y="428" width="9" height="4" fill="#383838"/>
<rect x="673" y="428" width="17" height="4" fill="#404040"/>
<rect x="690" y="428" width="8" height="4" fill="#383838"/>
<rect x="698" y="428" width="9" height="4" fill="#303030"/>
<rect x="707" y="428" width="34" height="4" fill="#282828"/>
<rect x="758" y="428" width="8" height="4" fill="#202020"/>
<rect x="89" y="432" width="25" height="5" fill="#404040"/>
<rect x="114" y="432" width="8" height="5" fill="#484848"/>
<rect x="122" y="432" width="9" height="5" fill="#505050"/>
<rect x="131" y="432" width="8" height="5" fill="#787878"/>
<rect x="139" y="432" width="9" height="5" fill="#989898"/>
<rect x="148" y="432" width="8" height="5" fill="#d8d8d8"/>
<rect x="156" y="432" width="9" height="5" fill="#f8f8f8"/>
<rect x="165" y="432" width="8" height="5" fill="#ffffff"/>
<rect x="173" y="432" width="17" height="5" fill="#f8f8f8"/>
<rect x="190" y="432" width="9" height="5" fill="#f0f0f0"/>
<rect x="199" y="432" width="8" height="5" fill="#e8e8e8"/>
<rect x="207" y="432" width="17" height="5" fill="#e0e0e0"/>
<rect x="224" y="432" width="9" height="5" fill="#d8d8d8"/>
<rect x="233" y="432" width="8" height="5" fill="#d0d0d0"/>
<rect x="241" y="432" width="17" height="5" fill="#c8c8c8"/>
<rect x="258" y="432" width="8" height="5" fill="#c0c0c0"/>
<rect x="266" y="432" width="17" height="5" fill="#b8b8b8"/>
<rect x="283" y="432" width="17" height="5" fill="#b0b0b0"/>
<rect x="300" y="432" width="26" height="5" fill="#a8a8a8"/>
<rect x="326" y="432" width="17" height="5" fill="#a0a0a0"/>
<rect x="343" y="432" width="34" height="5" fill="#989898"/>
<rect x="377" y="432" width="33" height="5" fill="#909090"/>
<rect x="410" y="432" width="51" height="5" fill="#888888"/>
<rect x="461" y="432" width="26" height="5" fill="#808080"/>
<rect x="487" y="432" width="17" height="5" fill="#787878"/>
<rect x="504" y="432" width="17" height="5" fill="#707070"/>
<rect x="521" y="432" width="25" height="5" fill="#686868"/>
<rect x="546" y="432" width="17" height="5" fill="#606060"/>
<rect x="563" y="432" width="17" height="5" fill="#585858"/>
<rect x="580" y="432" width="17" height="5" fill="#505050"/>
<rect x="597" y="432" width="8" height="5" fill="#484848"/>
<rect x="605" y="432" width="17" height="5" fill="#404040"/>
<rect x="622" y="432" width="34" height="5" fill="#303030"/>
<rect x="656" y="432" width="8" height="5" fill="#383838"/>
<rect x="664" y="432" width="9" height="5" fill="#484848"/>
<rect x="673" y="432" width="17" height="5" fill="#505050"/>
<rect x="690" y="432" width="8" height="5" fill="#404040"/>
<rect x="698" y="432" width="9" height="5" fill="#383838"/>
<rect x="707" y="432" width="8" height="5" fill="#303030"/>
<rect x="715" y="432" width="34" height="5" fill="#282828"/>
<rect x="89" y="437" width="25" height="4" fill="#404040"/>
<rect x="114" y="437" width="8" height="4" fill="#484848"/>
<rect x="122" y="437" width="9" height="4" fill="#505050"/>
<rect x="131" y="437" width="8" height="4" fill="#787878"/>
<rect x="139" y="437" width="9" height="4" fill="#989898"/>
<rect x="148" y="437" width="8" height="4" fill="#e0e0e0"/>
<rect x="182" y="437" width="8" height="4" fill="#f8f8f8"/>
<rect x="190" y="437" width="9" height="4" fill="#f0f0f0"/>
<rect x="199" y="437" width="17" height="4" fill="#e8e8e8"/>
<rect x="216" y="437" width="8" height="4" fill="#e0e0e0"/>
<rect x="224" y="437" width="9" height="4" fill="#d8d8d8"/>
<rect x="233" y="437" width="17" height="4" fill="#d0d0d0"/>
<rect x="250" y="437" width="8" height="4" fill="#c8c8c8"/>
<rect x="258" y="437" width="17" height="4" fill="#c0c0c0"/>
<rect x="275" y="437" width="17" height="4" fill="#b8b8b8"/>
<rect x="292" y="437" width="17" height="4" fill="#b0b0b0"/>
<rect x="309" y="437" width="17" height="4" fill="#a8a8a8"/>
<rect x="326" y="437" width="17" height="4" fill="#a0a0a0"/>
<rect x="343" y="437" width="34" height="4" fill="#989898"/>
<rect x="377" y="437" width="42" height="4" fill="#909090"/>
<rect x="419" y="437" width="42" height="4" fill="#888888"/>
<rect x="461" y="437" width="26" height="4" fill="#808080"/>
<rect x="487" y="437" width="25" height="4" fill="#787878"/>
<rect x="512" y="437" width="17" height="4" fill="#707070"/>
<rect x="529" y="437" width="17" height="4" fill="#686868"/>
<rect x="546" y="437" width="17" height="4" fill="#606060"/>
<rect x="563" y="437" width="17" height="4" fill="#585858"/>
<rect x="580" y="437" width="17" height="4" fill="#505050"/>
<rect x="597" y="437" width="17" height="4" fill="#484848"/>
<rect x="614" y="437" width="8" height="4" fill="#404040"/>
<rect x="622" y="437" width="34" height="4" fill="#303030"/>
<rect x="656" y="437" width="8" height="4" fill="#383838"/>
<rect x="664" y="437" width="9" height="4" fill="#484848"/>
<rect x="673" y="437" width="17" height="4" fill="#505050"/>
<rect x="690" y="437" width="8" height="4" fill="#404040"/>
<rect x="698" y="437" width="9" height="4" fill="#383838"/>
<rect x="707" y="437" width="8" height="4" fill="#303030"/>
<rect x="715" y="437" width="34" height="4" fill="#282828"/>
<rect x="89" y="441" width="25" height="4" fill="#404040"/>
<rect x="114" y="441" width="8" height="4" fill="#484848"/>
<rect x="122" y="441" width="9" height="4" fill="#505050"/>
<rect x="131" y="441" width="8" height="4" fill="#787878"/>
<rect x="139" y="441" width="9" height="4" fill="#989898"/>
<rect x="148" y="441" width="8" height="4" fill="#d8d8d8"/>
<rect x="156" y="441" width="9" height="4" fill="#f8f8f8"/>
<rect x="182" y="441" width="8" height="4" fill="#f8f8f8"/>
<rect x="190" y="441" width="9" height="4" fill="#f0f0f0"/>
<rect x="199" y="441" width="8" height="4" fill="#e8e8e8"/>
<rect x="207" y="441" width="9" height="4" fill="#e0e0e0"/>
<rect x="216" y="441" width="8" height="4" fill="#d8d8d8"/>
<rect x="224" y="441" width="17" height="4" fill="#d0d0d0"/>
<rect x="241" y="441" width="9" height="4" fill="#c8c8c8"/>
<rect x="250" y="441" width="8" height="4" fill="#c0c0c0"/>
<rect x="258" y="441" width="17" height="4" fill="#b8b8b8"/>
<rect x="275" y="441" width="17" height="4" fill="#b0b0b0"/>
<rect x="292" y="441" width="17" height="4" fill="#a8a8a8"/>
<rect x="309" y="441" width="25" height="4" fill="#a0a0a0"/>
<rect x="334" y="441" width="17" height="4" fill="#989898"/>
<rect x="351" y="441" width="34" height="4" fill="#909090"/>
<rect x="385" y="441" width="42" height="4" fill="#888888"/>
<rect x="427" y="441" width="43" height="4" fill="#808080"/>
<rect x="478" y="441" width="17" height="4" fill="#787878"/>
<rect x="495" y="441" width="17" height="4" fill="#707070"/>
<rect x="512" y="441" width="17" height="4" fill="#686868"/>
<rect x="529" y="441" width="17" height="4" fill="#606060"/>
<rect x="546" y="441" width="17" height="4" fill="#585858"/>
<rect x="563" y="441" width="25" height="4" fill="#505050"/>
<rect x="588" y="441" width="17" height="4" fill="#484848"/>
<rect x="605" y="441" width="9" height="4" fill="#404040"/>
<rect x="614" y="441" width="8" height="4" fill="#383838"/>
<rect x="622" y="441" width="34" height="4" fill="#303030"/>
<rect x="656" y="441" width="8" height="4" fill="#383838"/>
<rect x="664" y="441" width="9" height="4" fill="#404040"/>
<rect x="673" y="441" width="8" height="4" fill="#505050"/>
<rect x="681" y="441" width="9" height="4" fill="#484848"/>
<rect x="690" y="441" width="8" height="4" fill="#404040"/>
<rect x="698" y="441" width="17" height="4" fill="#303030"/>
<rect x="715" y="441" width="26" height="4" fill="#282828"/>
<rect x="89" y="445" width="25" height="5" fill="#383838"/>
<rect x="114" y="445" width="8" height="5" fill="#404040"/>
<rect x="122" y="445" width="9" height="5" fill="#484848"/>
<rect x="131" y="445" width="8" height="5" fill="#686868"/>
<rect x="139" y="445" width="9" height="5" fill="#909090"/>
<rect x="148" y="445" width="8" height="5" fill="#d0d0d0"/>
<rect x="156" y="445" width="9" height="5" fill="#e8e8e8"/>
<rect x="165" y="445" width="8" height="5" fill="#f0f0f0"/>
<rect x="173" y="445" width="9" height="5" fill="#e8e8e8"/>
<rect x="182" y="445" width="8" height="5" fill="#e0e0e0"/>
<rect x="190" y="445" width="9" height="5" fill="#d8d8d8"/>
<rect x="199" y="445" width="8" height="5" fill="#d0d0d0"/>
<rect x="207" y="445" width="17" height="5" fill="#c8c8c8"/>
<rect x="224" y="445" width="9" height="5" fill="#c0c0c0"/>
<rect x="233" y="445" width="8" height="5" fill="#b8b8b8"/>
<rect x="241" y="445" width="9" height="5" fill="#b0b0b0"/>
<rect x="250" y="445" width="16" height="5" fill="#a8a8a8"/>
<rect x="266" y="445" width="17" height="5" fill="#a0a0a0"/>
<rect x="283" y="445" width="17" height="5" fill="#989898"/>
<rect x="300" y="445" width="17" height="5" fill="#909090"/>
<rect x="317" y="445" width="17" height="5" fill="#888888"/>
<rect x="334" y="445" width="26" height="5" fill="#808080"/>
<rect x="360" y="445" width="25" height="5" fill="#787878"/>
<rect x="385" y="445" width="42" height="5" fill="#707070"/>
<rect x="427" y="445" width="34" height="5" fill="#686868"/>
<rect x="461" y="445" width="9" height="5" fill="#606060"/>
<rect x="478" y="445" width="9" height="5" fill="#606060"/>
<rect x="487" y="445" width="17" height="5" fill="#585858"/>
<rect x="504" y="445" width="17" height="5" fill="#505050"/>
<rect x="521" y="445" width="16" height="5" fill="#484848"/>
<rect x="537" y="445" width="17" height="5" fill="#404040"/>
<rect x="554" y="445" width="43" height="5" fill="#383838"/>
<rect x="597" y="445" width="25" height="5" fill="#303030"/>
<rect x="622" y="445" width="42" height="5" fill="#282828"/>
<rect x="664" y="445" width="9" height="5" fill="#303030"/>
<rect x="673" y="445" width="17" height="5" fill="#383838"/>
<rect x="690" y="445" width="8" height="5" fill="#303030"/>
<rect x="698" y="445" width="26" height="5" fill="#282828"/>
<rect x="89" y="450" width="17" height="4" fill="#303030"/>
<rect x="106" y="450" width="25" height="4" fill="#383838"/>
<rect x="131" y="450" width="8" height="4" fill="#505050"/>
<rect x="139" y="450" width="9" height="4" fill="#787878"/>
<rect x="148" y="450" width="8" height="4" fill="#b0b0b0"/>
<rect x="156" y="450" width="26" height="4" fill="#c8c8c8"/>
<rect x="182" y="450" width="8" height="4" fill="#c0c0c0"/>
<rect x="190" y="450" width="9" height="4" fill="#b0b0b0"/>
<rect x="199" y="450" width="8" height="4" fill="#a8a8a8"/>
<rect x="207" y="450" width="9" height="4" fill="#a0a0a0"/>
<rect x="216" y="450" width="8" height="4" fill="#989898"/>
<rect x="224" y="450" width="9" height="4" fill="#909090"/>
<rect x="233" y="450" width="17" height="4" fill="#888888"/>
<rect x="250" y="450" width="8" height="4" fill="#808080"/>
<rect x="258" y="450" width="17" height="4" fill="#787878"/>
<rect x="275" y="450" width="25" height="4" fill="#707070"/>
<rect x="300" y="450" width="26" height="4" fill="#686868"/>
<rect x="326" y="450" width="17" height="4" fill="#606060"/>
<rect x="343" y="450" width="17" height="4" fill="#585858"/>
<rect x="360" y="450" width="33" height="4" fill="#505050"/>
<rect x="393" y="450" width="43" height="4" fill="#484848"/>
<rect x="436" y="450" width="42" height="4" fill="#404040"/>
<rect x="478" y="450" width="17" height="4" fill="#383838"/>
<rect x="495" y="450" width="26" height="4" fill="#303030"/>
<rect x="521" y="450" width="42" height="4" fill="#282828"/>
<rect x="563" y="450" width="144" height="4" fill="#202020"/>
<rect x="89" y="454" width="8" height="5" fill="#282828"/>
<rect x="97" y="454" width="25" height="5" fill="#303030"/>
<rect x="122" y="454" width="17" height="5" fill="#383838"/>
<rect x="139" y="454" width="9" height="5" fill="#585858"/>
<rect x="148" y="454" width="8" height="5" fill="#888888"/>
<rect x="156" y="454" width="17" height="5" fill="#989898"/>
<rect x="173" y="454" width="9" height="5" fill="#909090"/>
<rect x="182" y="454" width="8" height="5" fill="#888888"/>
<rect x="190" y="454" width="9" height="5" fill="#787878"/>
<rect x="199" y="454" width="8" height="5" fill="#707070"/>
<rect x="207" y="454" width="9" height="5" fill="#686868"/>
<rect x="216" y="454" width="17" height="5" fill="#606060"/>
<rect x="233" y="454" width="8" height="5" fill="#585858"/>
<rect x="241" y="454" width="25" height="5" fill="#505050"/>
<rect x="266" y="454" width="26" height="5" fill="#484848"/>
<rect x="292" y="454" width="34" height="5" fill="#404040"/>
<rect x="326" y="454" width="25" height="5" fill="#383838"/>
<rect x="351" y="454" width="51" height="5" fill="#303030"/>
<rect x="402" y="454" width="76" height="5" fill="#282828"/>
<rect x="478" y="454" width="85" height="5" fill="#202020"/>
<rect x="106" y="459" width="25" height="4" fill="#303030"/>
<rect x="131" y="459" width="17" height="4" fill="#383838"/>
<rect x="148" y="459" width="8" height="4" fill="#585858"/>
<rect x="156" y="459" width="17" height="4" fill="#606060"/>
<rect x="173" y="459" width="9" height="4" fill="#585858"/>
<rect x="182" y="459" width="8" height="4" fill="#505050"/>
<rect x="190" y="459" width="9" height="4" fill="#484848"/>
<rect x="199" y="459" width="17" height="4" fill="#404040"/>
<rect x="216" y="459" width="17" height="4" fill="#383838"/>
<rect x="233" y="459" width="33" height="4" fill="#303030"/>
<rect x="266" y="459" width="77" height="4" fill="#282828"/>
<rect x="343" y="459" width="178" height="4" fill="#202020"/>
<rect x="529" y="459" width="17" height="4" fill="#202020"/>
<rect x="106" y="463" width="8" height="4" fill="#282828"/>
<rect x="114" y="463" width="34" height="4" fill="#303030"/>
<rect x="148" y="463" width="59" height="4" fill="#383838"/>
<rect x="207" y="463" width="43" height="4" fill="#303030"/>
<rect x="250" y="463" width="42" height="4" fill="#282828"/>
<rect x="292" y="463" width="229" height="4" fill="#202020"/>
<rect x="529" y="463" width="17" height="4" fill="#202020"/>
<rect x="106" y="467" width="33" height="5" fill="#282828"/>
<rect x="139" y="467" width="85" height="5" fill="#303030"/>
<rect x="224" y="467" width="59" height="5" fill="#282828"/>
<rect x="283" y="467" width="238" height="5" fill="#202020"/>
<rect x="106" y="472" width="160" height="4" fill="#282828"/>
<rect x="266" y="472" width="153" height="4" fill="#202020"/>
<rect x="419" y="472" width="8" height="4" fill="#282828"/>
<rect x="427" y="472" width="26" height="4" fill="#303030"/>
<rect x="453" y="472" width="51" height="4" fill="#282828"/>
<rect x="504" y="472" width="17" height="4" fill="#202020"/>
<rect x="106" y="476" width="144" height="4" fill="#282828"/>
<rect x="258" y="476" width="161" height="4" fill="#202020"/>
<rect x="419" y="476" width="8" height="4" fill="#404040"/>
<rect x="427" y="476" width="9" height="4" fill="#505050"/>
<rect x="436" y="476" width="8" height="4" fill="#484848"/>
<rect x="444" y="476" width="26" height="4" fill="#404040"/>
<rect x="470" y="476" width="25" height="4" fill="#383838"/>
<rect x="495" y="476" width="17" height="4" fill="#303030"/>
<rect x="512" y="476" width="25" height="4" fill="#282828"/>
<rect x="537" y="476" width="60" height="4" fill="#202020"/>
<rect x="106" y="480" width="8" height="5" fill="#282828"/>
<rect x="114" y="480" width="17" height="5" fill="#303030"/>
<rect x="131" y="480" width="85" height="5" fill="#282828"/>
<rect x="216" y="480" width="25" height="5" fill="#202020"/>
<rect x="266" y="480" width="144" height="5" fill="#202020"/>
<rect x="410" y="480" width="9" height="5" fill="#282828"/>
<rect x="419" y="480" width="8" height="5" fill="#606060"/>
<rect x="427" y="480" width="9" height="5" fill="#787878"/>
<rect x="436" y="480" width="8" height="5" fill="#707070"/>
<rect x="444" y="480" width="9" height="5" fill="#686868"/>
<rect x="453" y="480" width="17" height="5" fill="#606060"/>
<rect x="470" y="480" width="8" height="5" fill="#585858"/>
<rect x="478" y="480" width="17" height="5" fill="#505050"/>
<rect x="495" y="480" width="17" height="5" fill="#484848"/>
<rect x="512" y="480" width="9" height="5" fill="#404040"/>
<rect x="521" y="480" width="16" height="5" fill="#383838"/>
<rect x="537" y="480" width="17" height="5" fill="#303030"/>
<rect x="554" y="480" width="136" height="5" fill="#282828"/>
<rect x="690" y="480" width="68" height="5" fill="#202020"/>
<rect x="758" y="480" width="17" height="5" fill="#282828"/>
<rect x="89" y="485" width="8" height="4" fill="#282828"/>
<rect x="97" y="485" width="9" height="4" fill="#303030"/>
<rect x="106" y="485" width="33" height="4" fill="#383838"/>
<rect x="139" y="485" width="9" height="4" fill="#303030"/>
<rect x="148" y="485" width="17" height="4" fill="#282828"/>
<rect x="165" y="485" width="85" height="4" fill="#202020"/>
<rect x="266" y="485" width="68" height="4" fill="#202020"/>
<rect x="360" y="485" width="42" height="4" fill="#202020"/>
<rect x="402" y="485" width="8" height="4" fill="#282828"/>
<rect x="410" y="485" width="9" height="4" fill="#383838"/>
<rect x="419" y="485" width="8" height="4" fill="#808080"/>
<rect x="427" y="485" width="9" height="4" fill="#b0b0b0"/>
<rect x="436" y="485" width="8" height="4" fill="#a0a0a0"/>
<rect x="444" y="485" width="9" height="4" fill="#989898"/>
<rect x="453" y="485" width="8" height="4" fill="#909090"/>
<rect x="461" y="485" width="9" height="4" fill="#808080"/>
<rect x="470" y="485" width="8" height="4" fill="#787878"/>
<rect x="478" y="485" width="17" height="4" fill="#707070"/>
<rect x="495" y="485" width="9" height="4" fill="#686868"/>
<rect x="504" y="485" width="8" height="4" fill="#606060"/>
<rect x="512" y="485" width="9" height="4" fill="#585858"/>
<rect x="521" y="485" width="16" height="4" fill="#505050"/>
<rect x="537" y="485" width="9" height="4" fill="#484848"/>
<rect x="546" y="485" width="25" height="4" fill="#404040"/>
<rect x="571" y="485" width="68" height="4" fill="#383838"/>
<rect x="639" y="485" width="136" height="4" fill="#303030"/>
<rect x="89" y="489" width="8" height="4" fill="#303030"/>
<rect x="97" y="489" width="9" height="4" fill="#383838"/>
<rect x="106" y="489" width="8" height="4" fill="#404040"/>
<rect x="114" y="489" width="17" height="4" fill="#484848"/>
<rect x="131" y="489" width="8" height="4" fill="#404040"/>
<rect x="139" y="489" width="9" height="4" fill="#383838"/>
<rect x="148" y="489" width="8" height="4" fill="#303030"/>
<rect x="156" y="489" width="9" height="4" fill="#282828"/>
<rect x="165" y="489" width="169" height="4" fill="#202020"/>
<rect x="360" y="489" width="42" height="4" fill="#202020"/>
<rect x="402" y="489" width="8" height="4" fill="#282828"/>
<rect x="410" y="489" width="9" height="4" fill="#484848"/>
<rect x="419" y="489" width="8" height="4" fill="#989898"/>
<rect x="427" y="489" width="9" height="4" fill="#d0d0d0"/>
<rect x="436" y="489" width="8" height="4" fill="#c8c8c8"/>
<rect x="444" y="489" width="9" height="4" fill="#b8b8b8"/>
<rect x="453" y="489" width="8" height="4" fill="#b0b0b0"/>
<rect x="461" y="489" width="9" height="4" fill="#a0a0a0"/>
<rect x="470" y="489" width="8" height="4" fill="#989898"/>
<rect x="478" y="489" width="9" height="4" fill="#909090"/>
<rect x="487" y="489" width="8" height="4" fill="#888888"/>
<rect x="495" y="489" width="9" height="4" fill="#808080"/>
<rect x="504" y="489" width="8" height="4" fill="#787878"/>
<rect x="512" y="489" width="9" height="4" fill="#707070"/>
<rect x="521" y="489" width="16" height="4" fill="#686868"/>
<rect x="537" y="489" width="9" height="4" fill="#606060"/>
<rect x="546" y="489" width="25" height="4" fill="#585858"/>
<rect x="571" y="489" width="34" height="4" fill="#505050"/>
<rect x="605" y="489" width="51" height="4" fill="#484848"/>
<rect x="656" y="489" width="59" height="4" fill="#404040"/>
<rect x="715" y="489" width="26" height="4" fill="#383838"/>
<rect x="741" y="489" width="25" height="4" fill="#404040"/>
<rect x="766" y="489" width="9" height="4" fill="#484848"/>
<rect x="89" y="493" width="8" height="5" fill="#303030"/>
<rect x="97" y="493" width="9" height="5" fill="#383838"/>
<rect x="106" y="493" width="8" height="5" fill="#404040"/>
<rect x="114" y="493" width="17" height="5" fill="#484848"/>
<rect x="131" y="493" width="8" height="5" fill="#404040"/>
<rect x="139" y="493" width="9" height="5" fill="#383838"/>
<rect x="148" y="493" width="8" height="5" fill="#303030"/>
<rect x="156" y="493" width="9" height="5" fill="#282828"/>
<rect x="165" y="493" width="161" height="5" fill="#202020"/>
<rect x="360" y="493" width="42" height="5" fill="#202020"/>
<rect x="402" y="493" width="8" height="5" fill="#282828"/>
<rect x="410" y="493" width="9" height="5" fill="#505050"/>
<rect x="419" y="493" width="8" height="5" fill="#a8a8a8"/>
<rect x="427" y="493" width="9" height="5" fill="#e8e8e8"/>
<rect x="436" y="493" width="8" height="5" fill="#d8d8d8"/>
<rect x="444" y="493" width="9" height="5" fill="#c8c8c8"/>
<rect x="453" y="493" width="8" height="5" fill="#b8b8b8"/>
<rect x="461" y="493" width="9" height="5" fill="#b0b0b0"/>
<rect x="470" y="493" width="8" height="5" fill="#a0a0a0"/>
<rect x="478" y="493" width="9" height="5" fill="#989898"/>
<rect x="487" y="493" width="8" height="5" fill="#909090"/>
<rect x="495" y="493" width="9" height="5" fill="#888888"/>
<rect x="504" y="493" width="17" height="5" fill="#808080"/>
<rect x="521" y="493" width="8" height="5" fill="#787878"/>
<rect x="529" y="493" width="8" height="5" fill="#707070"/>
<rect x="537" y="493" width="17" height="5" fill="#686868"/>
<rect x="554" y="493" width="34" height="5" fill="#606060"/>
<rect x="588" y="493" width="34" height="5" fill="#585858"/>
<rect x="622" y="493" width="42" height="5" fill="#505050"/>
<rect x="664" y="493" width="51" height="5" fill="#484848"/>
<rect x="715" y="493" width="26" height="5" fill="#404040"/>
<rect x="741" y="493" width="25" height="5" fill="#484848"/>
<rect x="766" y="493" width="9" height="5" fill="#505050"/>
<rect x="89" y="498" width="8" height="4" fill="#282828"/>
<rect x="97" y="498" width="9" height="4" fill="#303030"/>
<rect x="106" y="498" width="8" height="4" fill="#383838"/>
<rect x="114" y="498" width="17" height="4" fill="#404040"/>
<rect x="131" y="498" width="8" height="4" fill="#383838"/>
<rect x="139" y="498" width="9" height="4" fill="#303030"/>
<rect x="148" y="498" width="17" height="4" fill="#282828"/>
<rect x="165" y="498" width="8" height="4" fill="#202020"/>
<rect x="182" y="498" width="127" height="4" fill="#202020"/>
<rect x="360" y="498" width="42" height="4" fill="#202020"/>
<rect x="402" y="498" width="8" height="4" fill="#282828"/>
<rect x="410" y="498" width="9" height="4" fill="#505050"/>
<rect x="419" y="498" width="8" height="4" fill="#a8a8a8"/>
<rect x="427" y="498" width="9" height="4" fill="#e0e0e0"/>
<rect x="436" y="498" width="8" height="4" fill="#d8d8d8"/>
<rect x="444" y="498" width="9" height="4" fill="#c8c8c8"/>
<rect x="453" y="498" width="8" height="4" fill="#b8b8b8"/>
<rect x="461" y="498" width="9" height="4" fill="#b0b0b0"/>
<rect x="470" y="498" width="8" height="4" fill="#a0a0a0"/>
<rect x="478" y="498" width="9" height="4" fill="#989898"/>
<rect x="487" y="498" width="8" height="4" fill="#909090"/>
<rect x="495" y="498" width="9" height="4" fill="#888888"/>
<rect x="504" y="498" width="17" height="4" fill="#808080"/>
<rect x="521" y="498" width="8" height="4" fill="#787878"/>
<rect x="529" y="498" width="8" height="4" fill="#707070"/>
<rect x="537" y="498" width="17" height="4" fill="#686868"/>
<rect x="554" y="498" width="34" height="4" fill="#606060"/>
<rect x="588" y="498" width="34" height="4" fill="#585858"/>
<rect x="622" y="498" width="42" height="4" fill="#505050"/>
<rect x="664" y="498" width="51" height="4" fill="#484848"/>
<rect x="715" y="498" width="26" height="4" fill="#404040"/>
<rect x="741" y="498" width="25" height="4" fill="#484848"/>
<rect x="766" y="498" width="9" height="4" fill="#505050"/>
<rect x="89" y="502" width="17" height="4" fill="#282828"/>
<rect x="106" y="502" width="33" height="4" fill="#303030"/>
<rect x="139" y="502" width="17" height="4" fill="#282828"/>
<rect x="216" y="502" width="67" height="4" fill="#202020"/>
<rect x="368" y="502" width="9" height="4" fill="#202020"/>
<rect x="385" y="502" width="17" height="4" fill="#202020"/>
<rect x="402" y="502" width="8" height="4" fill="#282828"/>
<rect x="410" y="502" width="9" height="4" fill="#484848"/>
<rect x="419" y="502" width="8" height="4" fill="#989898"/>
<rect x="427" y="502" width="9" height="4" fill="#c8c8c8"/>
<rect x="436" y="502" width="8" height="4" fill="#c0c0c0"/>
<rect x="444" y="502" width="9" height="4" fill="#b0b0b0"/>
<rect x="453" y="502" width="8" height="4" fill="#a8a8a8"/>
<rect x="461" y="502" width="9" height="4" fill="#a0a0a0"/>
<rect x="470" y="502" width="8" height="4" fill="#989898"/>
<rect x="478" y="502" width="9" height="4" fill="#909090"/>
<rect x="487" y="502" width="17" height="4" fill="#808080"/>
<rect x="504" y="502" width="8" height="4" fill="#787878"/>
<rect x="512" y="502" width="9" height="4" fill="#707070"/>
<rect x="521" y="502" width="16" height="4" fill="#686868"/>
<rect x="537" y="502" width="9" height="4" fill="#606060"/>
<rect x="546" y="502" width="25" height="4" fill="#585858"/>
<rect x="571" y="502" width="43" height="4" fill="#505050"/>
<rect x="614" y="502" width="50" height="4" fill="#484848"/>
<rect x="664" y="502" width="60" height="4" fill="#404040"/>
<rect x="724" y="502" width="8" height="4" fill="#383838"/>
<rect x="732" y="502" width="34" height="4" fill="#404040"/>
<rect x="766" y="502" width="9" height="4" fill="#484848"/>
<rect x="97" y="506" width="51" height="5" fill="#282828"/>
<rect x="216" y="506" width="42" height="5" fill="#202020"/>
<rect x="393" y="506" width="17" height="5" fill="#202020"/>
<rect x="410" y="506" width="9" height="5" fill="#303030"/>
<rect x="419" y="506" width="8" height="5" fill="#707070"/>
<rect x="427" y="506" width="17" height="5" fill="#909090"/>
<rect x="444" y="506" width="9" height="5" fill="#888888"/>
<rect x="453" y="506" width="8" height="5" fill="#808080"/>
<rect x="461" y="506" width="9" height="5" fill="#787878"/>
<rect x="470" y="506" width="17" height="5" fill="#707070"/>
<rect x="487" y="506" width="8" height="5" fill="#686868"/>
<rect x="495" y="506" width="17" height="5" fill="#606060"/>
<rect x="512" y="506" width="9" height="5" fill="#585858"/>
<rect x="521" y="506" width="8" height="5" fill="#505050"/>
<rect x="529" y="506" width="17" height="5" fill="#484848"/>
<rect x="546" y="506" width="25" height="5" fill="#404040"/>
<rect x="571" y="506" width="77" height="5" fill="#383838"/>
<rect x="648" y="506" width="127" height="5" fill="#303030"/>
<rect x="122" y="511" width="9" height="4" fill="#202020"/>
<rect x="216" y="511" width="42" height="4" fill="#202020"/>
<rect x="402" y="511" width="17" height="4" fill="#202020"/>
<rect x="419" y="511" width="8" height="4" fill="#484848"/>
<rect x="427" y="511" width="17" height="4" fill="#585858"/>
<rect x="444" y="511" width="26" height="4" fill="#505050"/>
<rect x="470" y="511" width="34" height="4" fill="#484848"/>
<rect x="504" y="511" width="8" height="4" fill="#404040"/>
<rect x="512" y="511" width="17" height="4" fill="#383838"/>
<rect x="529" y="511" width="25" height="4" fill="#303030"/>
<rect x="554" y="511" width="153" height="4" fill="#282828"/>
<rect x="707" y="511" width="42" height="4" fill="#202020"/>
<rect x="749" y="511" width="26" height="4" fill="#282828"/>
<rect x="402" y="515" width="17" height="5" fill="#202020"/>
<rect x="419" y="515" width="8" height="5" fill="#282828"/>
<rect x="427" y="515" width="77" height="5" fill="#303030"/>
<rect x="504" y="515" width="25" height="5" fill="#282828"/>
</g>
<g shape-rendering="crispEdges">
<rect x="88" y="422" width="688" height="1" fill="#f00"/>
<rect x="88" y="451" width="688" height="1" fill="#f00"/>
</g>
<g shape-rendering="crispEdges" fill="#c8202c">
<rect x="87" y="334" width="691" height="3"/>
<rect x="87" y="532" width="691" height="3"/>
<rect x="87" y="334" width="3" height="201"/>
<rect x="775" y="334" width="3" height="201"/>
<rect x="96" y="528" width="2" height="4"/>
<rect x="96" y="337" width="2" height="3"/>
<rect x="104" y="528" width="2" height="4"/>
<rect x="104" y="337" width="2" height="3"/>
<rect x="113" y="528" width="2" height="4"/>
<rect x="113" y="337" width="2" height="3"/>
<rect x="121" y="528" width="2" height="4"/>
<rect x="121" y="337" width="2" height="3"/>
<rect x="130" y="528" width="2" height="4"/>
<rect x="130" y="337" width="2" height="3"/>
<rect x="138" y="528" width="2" height="4"/>
<rect x="138" y="337" width="2" height="3"/>
<rect x="147" y="528" width="2" height="4"/>
<rect x="147" y="337" width="2" height="3"/>
<rect x="155" y="528" width="2" height="4"/>
<rect x="155" y="337" width="2" height="3"/>
<rect x="164" y="528" width="2" height="4"/>
<rect x="164" y="337" width="2" height="3"/>
<rect x="172" y="523" width="2" height="9"/>
<rect x="172" y="337" width="2" height="8"/>
<rect x="181" y="528" width="2" height="4"/>
<rect x="181" y="337" width="2" height="3"/>
<rect x="189" y="528" width="2" height="4"/>
<rect x="189" y="337" width="2" height="3"/>
<rect x="198" y="528" width="2" height="4"/>
<rect x="198" y="337" width="2" height="3"/>
<rect x="206" y="528" width="2" height="4"/>
<rect x="206" y="337" width="2" height="3"/>
<rect x="215" y="528" width="2" height="4"/>
<rect x="215" y="337" width="2" height="3"/>
<rect x="223" y="528" width="2" height="4"/>
<rect x="223" y="337" width="2" height="3"/>
<rect x="232" y="528" width="2" height="4"/>
<rect x="232" y="337" width="2" height="3"/>
<rect x="240" y="528" width="2" height="4"/>
<rect x="240" y="337" width="2" height="3"/>
<rect x="249" y="528" width="2" height="4"/>
<rect x="249" y="337" width="2" height="3"/>
<rect x="257" y="523" width="2" height="9"/>
<rect x="257" y="337" width="2" height="8"/>
<rect x="266" y="528" width="2" height="4"/>
<rect x="266" y="337" width="2" height="3"/>
<rect x="274" y="528" width="2" height="4"/>
<rect x="274" y="337" width="2" height="3"/>
<rect x="283" y="528" width="2" height="4"/>
<rect x="283" y="337" width="2" height="3"/>
<rect x="291" y="528" width="2" height="4"/>
<rect x="291" y="337" width="2" height="3"/>
<rect x="300" y="528" width="2" height="4"/>
<rect x="300" y="337" width="2" height="3"/>
<rect x="308" y="528" width="2" height="4"/>
<rect x="308" y="337" width="2" height="3"/>
<rect x="317" y="528" width="2" height="4"/>
<rect x="317" y="337" width="2" height="3"/>
<rect x="325" y="528" width="2" height="4"/>
<rect x="325" y="337" width="2" height="3"/>
<rect x="334" y="528" width="2" height="4"/>
<rect x="334" y="337" width="2" height="3"/>
<rect x="342" y="523" width="2" height="9"/>
<rect x="342" y="337" width="2" height="8"/>
<rect x="351" y="528" width="2" height="4"/>
<rect x="351" y="337" width="2" height="3"/>
<rect x="359" y="528" width="2" height="4"/>
<rect x="359" y="337" width="2" height="3"/>
<rect x="368" y="528" width="2" height="4"/>
<rect x="368" y="337" width="2" height="3"/>
<rect x="376" y="528" width="2" height="4"/>
<rect x="376" y="337" width="2" height="3"/>
<rect x="385" y="528" width="2" height="4"/>
<rect x="385" y="337" width="2" height="3"/>
<rect x="393" y="528" width="2" height="4"/>
<rect x="393" y="337" width="2" height="3"/>
<rect x="402" y="528" width="2" height="4"/>
<rect x="402" y="337" width="2" height="3"/>
<rect x="410" y="528" width="2" height="4"/>
<rect x="410" y="337" width="2" height="3"/>
<rect x="419" y="528" width="2" height="4"/>
<rect x="419" y="337" width="2" height="3"/>
<rect x="427" y="523" width="2" height="9"/>
<rect x="427" y="337" width="2" height="8"/>
<rect x="436" y="528" width="2" height="4"/>
<rect x="436" y="337" width="2" height="3"/>
<rect x="444" y="528" width="2" height="4"/>
<rect x="444" y="337" width="2" height="3"/>
<rect x="453" y="528" width="2" height="4"/>
<rect x="453" y="337" width="2" height="3"/>
<rect x="461" y="528" width="2" height="4"/>
<rect x="461" y="337" width="2" height="3"/>
<rect x="470" y="528" width="2" height="4"/>
<rect x="470" y="337" width="2" height="3"/>
<rect x="478" y="528" width="2" height="4"/>
<rect x="478" y="337" width="2" height="3"/>
<rect x="487" y="528" width="2" height="4"/>
<rect x="487" y="337" width="2" height="3"/>
<rect x="495" y="528" width="2" height="4"/>
<rect x="495" y="337" width="2" height="3"/>
<rect x="504" y="528" width="2" height="4"/>
<rect x="504" y="337" width="2" height="3"/>
<rect x="512" y="523" width="2" height="9"/>
<rect x="512" y="337" width="2" height="8"/>
<rect x="521" y="528" width="2" height="4"/>
<rect x="521" y="337" width="2" height="3"/>
<rect x="530" y="528" width="2" height="4"/>
<rect x="530" y="337" width="2" height="3"/>
<rect x="538" y="528" width="2" height="4"/>
<rect x="538" y="337" width="2" height="3"/>
<rect x="547" y="528" width="2" height="4"/>
<rect x="547" y="337" width="2" height="3"/>
<rect x="555" y="528" width="2" height="4"/>
<rect x="555" y="337" width="2" height="3"/>
<rect x="564" y="528" width="2" height="4"/>
<rect x="564" y="337" width="2" height="3"/>
<rect x="572" y="528" width="2" height="4"/>
<rect x="572" y="337" width="2" height="3"/>
<rect x="581" y="528" width="2" height="4"/>
<rect x="581" y="337" width="2" height="3"/>
<rect x="589" y="528" width="2" height="4"/>
<rect x="589" y="337" width="2" height="3"/>
<rect x="598" y="523" width="2" height="9"/>
<rect x="598" y="337" width="2" height="8"/>
<rect x="606" y="528" width="2" height="4"/>
<rect x="606" y="337" width="2" height="3"/>
<rect x="615" y="528" width="2" height="4"/>
<rect x="615" y="337" width="2" height="3"/>
<rect x="623" y="528" width="2" height="4"/>
<rect x="623" y="337" width="2" height="3"/>
<rect x="632" y="528" width="2" height="4"/>
<rect x="632" y="337" width="2" height="3"/>
<rect x="640" y="528" width="2" height="4"/>
<rect x="640" y="337" width="2" height="3"/>
<rect x="649" y="528" width="2" height="4"/>
<rect x="649" y="337" width="2" height="3"/>
<rect x="657" y="528" width="2" height="4"/>
<rect x="657" y="337" width="2" height="3"/>
<rect x="666" y="528" width="2" height="4"/>
<rect x="666" y="337" width="2" height="3"/>
<rect x="674" y="528" width="2" height="4"/>
<rect x="674" y="337" width="2" height="3"/>
<rect x="683" y="523" width="2" height="9"/>
<rect x="683" y="337" width="2" height="8"/>
<rect x="691" y="528" width="2" height="4"/>
<rect x="691" y="337" width="2" height="3"/>
<rect x="700" y="528" width="2" height="4"/>
<rect x="700" y="337" width="2" height="3"/>
<rect x="708" y="528" width="2" height="4"/>
<rect x="708" y="337" width="2" height="3"/>
<rect x="717" y="528" width="2" height="4"/>
<rect x="717" y="337" width="2" height="3"/>
<rect x="725" y="528" width="2" height="4"/>
<rect x="725" y="337" width="2" height="3"/>
<rect x="734" y="528" width="2" height="4"/>
<rect x="734" y="337" width="2" height="3"/>
<rect x="742" y="528" width="2" height="4"/>
<rect x="742" y="337" width="2" height="3"/>
<rect x="751" y="528" width="2" height="4"/>
<rect x="751" y="337" width="2" height="3"/>
<rect x="759" y="528" width="2" height="4"/>
<rect x="759" y="337" width="2" height="3"/>
<rect x="768" y="523" width="2" height="9"/>
<rect x="768" y="337" width="2" height="8"/>
<rect x="90" y="485" width="5" height="2"/>
<rect x="90" y="436" width="5" height="2"/>
<rect x="90" y="388" width="5" height="2"/>
<rect x="90" y="340" width="5" height="2"/>
</g>
<rect x="88" y="436" width="691" height="1" fill="#000" shape-rendering="crispEdges"/>
<text x="87.8" y="326.0" font-size="19.6" fill="#c8202c" stroke="#c8202c" text-anchor="middle" textLength="44.5" lengthAdjust="spacingAndGlyphs">1.48</text>
<text x="172.9" y="326.0" font-size="19.6" fill="#c8202c" stroke="#c8202c" text-anchor="middle" textLength="44.5" lengthAdjust="spacingAndGlyphs">2.49</text>
<text x="258.0" y="326.0" font-size="19.6" fill="#c8202c" stroke="#c8202c" text-anchor="middle" textLength="44.5" lengthAdjust="spacingAndGlyphs">3.30</text>
<text x="343.0" y="326.0" font-size="19.6" fill="#c8202c" stroke="#c8202c" text-anchor="middle" textLength="44.5" lengthAdjust="spacingAndGlyphs">3.85</text>
<text x="428.1" y="326.0" font-size="19.6" fill="#c8202c" stroke="#c8202c" text-anchor="middle" textLength="44.5" lengthAdjust="spacingAndGlyphs">4.29</text>
<text x="513.2" y="326.0" font-size="19.6" fill="#c8202c" stroke="#c8202c" text-anchor="middle" textLength="44.5" lengthAdjust="spacingAndGlyphs">4.67</text>
<text x="598.3" y="326.0" font-size="19.6" fill="#c8202c" stroke="#c8202c" text-anchor="middle" textLength="44.5" lengthAdjust="spacingAndGlyphs">5.01</text>
<text x="683.4" y="326.0" font-size="19.6" fill="#c8202c" stroke="#c8202c" text-anchor="middle" textLength="44.5" lengthAdjust="spacingAndGlyphs">5.32</text>
<text x="768.4" y="326.0" font-size="19.6" fill="#c8202c" stroke="#c8202c" text-anchor="middle" textLength="44.5" lengthAdjust="spacingAndGlyphs">5.55</text>
<text x="87.6" y="563.7" font-size="19.6" fill="#c8202c" stroke="#c8202c" text-anchor="middle" textLength="11.5" lengthAdjust="spacingAndGlyphs">0</text>
<text x="173.5" y="563.7" font-size="19.6" fill="#c8202c" stroke="#c8202c" text-anchor="middle" textLength="25.5" lengthAdjust="spacingAndGlyphs">10</text>
<text x="258.6" y="563.7" font-size="19.6" fill="#c8202c" stroke="#c8202c" text-anchor="middle" textLength="25.5" lengthAdjust="spacingAndGlyphs">20</text>
<text x="343.6" y="563.7" font-size="19.6" fill="#c8202c" stroke="#c8202c" text-anchor="middle" textLength="25.5" lengthAdjust="spacingAndGlyphs">30</text>
<text x="428.7" y="563.7" font-size="19.6" fill="#c8202c" stroke="#c8202c" text-anchor="middle" textLength="25.5" lengthAdjust="spacingAndGlyphs">40</text>
<text x="513.8" y="563.7" font-size="19.6" fill="#c8202c" stroke="#c8202c" text-anchor="middle" textLength="25.5" lengthAdjust="spacingAndGlyphs">50</text>
<text x="598.9" y="563.7" font-size="19.6" fill="#c8202c" stroke="#c8202c" text-anchor="middle" textLength="25.5" lengthAdjust="spacingAndGlyphs">60</text>
<text x="684.0" y="563.7" font-size="19.6" fill="#c8202c" stroke="#c8202c" text-anchor="middle" textLength="25.5" lengthAdjust="spacingAndGlyphs">70</text>
<text x="769.0" y="563.7" font-size="19.6" fill="#c8202c" stroke="#c8202c" text-anchor="middle" textLength="25.5" lengthAdjust="spacingAndGlyphs">80</text>
<text x="81.0" y="349.5" font-size="19.6" fill="#c8202c" stroke="#c8202c" text-anchor="end" textLength="25.0" lengthAdjust="spacingAndGlyphs">20</text>
<text x="81.0" y="396.5" font-size="19.6" fill="#c8202c" stroke="#c8202c" text-anchor="end" textLength="23.0" lengthAdjust="spacingAndGlyphs">10</text>
<text x="81.0" y="444.5" font-size="19.6" fill="#c8202c" stroke="#c8202c" text-anchor="end" textLength="11.0" lengthAdjust="spacingAndGlyphs">0</text>
<text x="81" y="493.0" font-size="19.6" fill="#c8202c" stroke="#c8202c" text-anchor="end"><tspan textLength="15" lengthAdjust="spacingAndGlyphs">-</tspan><tspan textLength="23" lengthAdjust="spacingAndGlyphs">10</tspan></text>
<text x="81" y="533.0" font-size="19.6" fill="#c8202c" stroke="#c8202c" text-anchor="end"><tspan textLength="15" lengthAdjust="spacingAndGlyphs">-</tspan><tspan textLength="25" lengthAdjust="spacingAndGlyphs">20</tspan></text>
<text x="432.0" y="589.0" font-size="19.6" fill="#c8202c" stroke="#c8202c" text-anchor="middle" textLength="48.0" lengthAdjust="spacingAndGlyphs">Pixel</text>
<text transform="translate(22.5,435) rotate(-90)" font-size="19.6" fill="#c8202c" stroke="#c8202c" text-anchor="middle" textLength="188" lengthAdjust="spacingAndGlyphs">Space Shift [pixel]</text>
<g shape-rendering="crispEdges" fill="#505050">
<rect x="789" y="598" width="1" height="1"/>
<rect x="790" y="597" width="1" height="1"/>
<rect x="791" y="596" width="1" height="1"/>
<rect x="792" y="595" width="1" height="1"/>
<rect x="793" y="594" width="1" height="1"/>
<rect x="794" y="593" width="1" height="1"/>
<rect x="795" y="592" width="1" height="1"/>
<rect x="796" y="591" width="1" height="1"/>
<rect x="797" y="590" width="1" height="1"/>
<rect x="798" y="589" width="1" height="1"/>
<rect x="793" y="598" width="1" height="1"/>
<rect x="794" y="597" width="1" height="1"/>
<rect x="795" y="596" width="1" height="1"/>
<rect x="796" y="595" width="1" height="1"/>
<rect x="797" y="594" width="1" height="1"/>
<rect x="798" y="593" width="1" height="1"/>
<rect x="797" y="598" width="1" height="1"/>
<rect x="798" y="597" width="1" height="1"/>
</g>
</svg></body></html>
